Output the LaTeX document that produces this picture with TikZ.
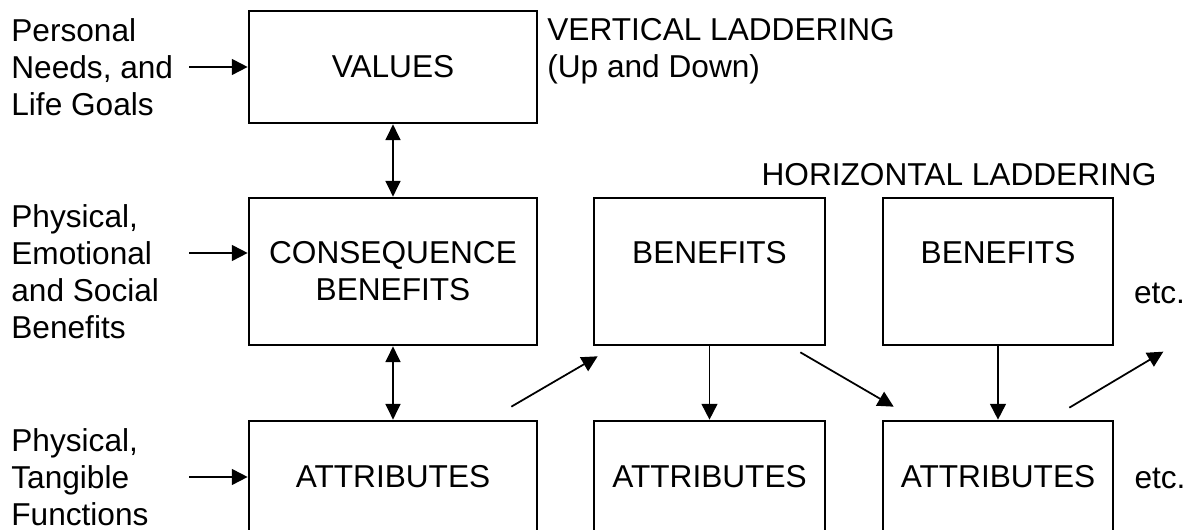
\documentclass[tikz,border=0pt]{standalone}
\usepackage{fontspec}
\setmainfont{Liberation Sans}
\usetikzlibrary{arrows.meta,positioning,calc}

\begin{document}
\begin{tikzpicture}[
    every node/.style={font=\fontsize{18}{21}\selectfont},
    box/.style={draw, line width=1.5pt, minimum width=5.76cm, minimum height=2.24cm, align=center},
    tallbox/.style={box, minimum height=2.94cm},
    topbox/.style={tallbox, text height=0.44cm, text depth=0.76cm},
    lbl/.style={align=left, inner sep=0pt, anchor=west},
    arr/.style={-{Triangle[length=9pt,width=9pt]}, line width=1pt},
    dbl/.style={{Triangle[length=9pt,width=8.5pt]}-{Triangle[length=9pt,width=8.5pt]}, line width=1pt}]

    \useasboundingbox (0,0) rectangle (23.86,10.6);
    \clip (0,0) rectangle (23.86,10.6);

    % Ladder boxes
    \node[box] (values) at (7.86,9.26) {VALUES};
    \node[tallbox] (conseq) at (7.86,5.17) {CONSEQUENCE\\BENEFITS};
    \node[topbox, minimum width=4.62cm] (ben1) at (14.19,5.17) {BENEFITS};
    \node[topbox, minimum width=4.6cm] (ben2) at (19.96,5.17) {BENEFITS};
    \node[box] (attr1) at (7.86,1.06) {ATTRIBUTES};
    \node[box, minimum width=4.62cm] (attr2) at (14.19,1.06) {ATTRIBUTES};
    \node[box, minimum width=4.6cm] (attr3) at (19.96,1.06) {ATTRIBUTES};

    % Side labels
    \node[lbl] (needs) at (0.22,9.26) {Personal\\Needs, and\\Life Goals};
    \node[lbl] (social) at (0.22,5.17) {Physical,\\Emotional\\and Social\\Benefits};
    \node[lbl] (funcs) at (0.22,1.06) {Physical,\\Tangible\\Functions};

    \coordinate (in1) at (3.78,9.26);
    \coordinate (in2) at (3.78,5.54);
    \coordinate (in3) at (3.78,1.06);
    \draw[arr] (in1) -- (values.west);
    \draw[arr] (in2) -- (in2 -| conseq.west);
    \draw[arr] (in3) -- (attr1.west);

    % Vertical laddering
    \node[lbl] (vert) at (10.94,9.57) {VERTICAL LADDERING\\(Up and Down)};
    \draw[dbl] (values.south) -- (conseq.north);
    \draw[dbl] (conseq.south) -- (attr1.north);

    % Horizontal laddering
    \node (horiz) at (19.18,7.1) {HORIZONTAL LADDERING};
    \coordinate (h1s) at ($(attr1.north east)+(-0.54,0.26)$);
    \coordinate (h1e) at ($(ben1.south west)+(0.1,-0.2)$);
    \coordinate (h2s) at ($(ben1.south east)+(-0.52,-0.12)$);
    \coordinate (h2e) at ($(attr3.north west)+(0.24,0.26)$);
    \coordinate (h3s) at ($(attr3.north east)+(-0.9,0.24)$);
    \coordinate (more) at ($(attr3.north east)+(0.98,1.36)$);
    \draw[arr] (h1s) -- (h1e);
    \draw[arr] (ben1.south) -- (attr2.north);
    \draw[arr] (h2s) -- (h2e);
    \draw[arr] (ben2.south) -- (attr3.north);
    \draw[arr] (h3s) -- (more);

    \node (etc1) at (23.19,4.74) {etc.};
    \node (etc2) at (23.2,1.04) {etc.};
\end{tikzpicture}
\end{document}
